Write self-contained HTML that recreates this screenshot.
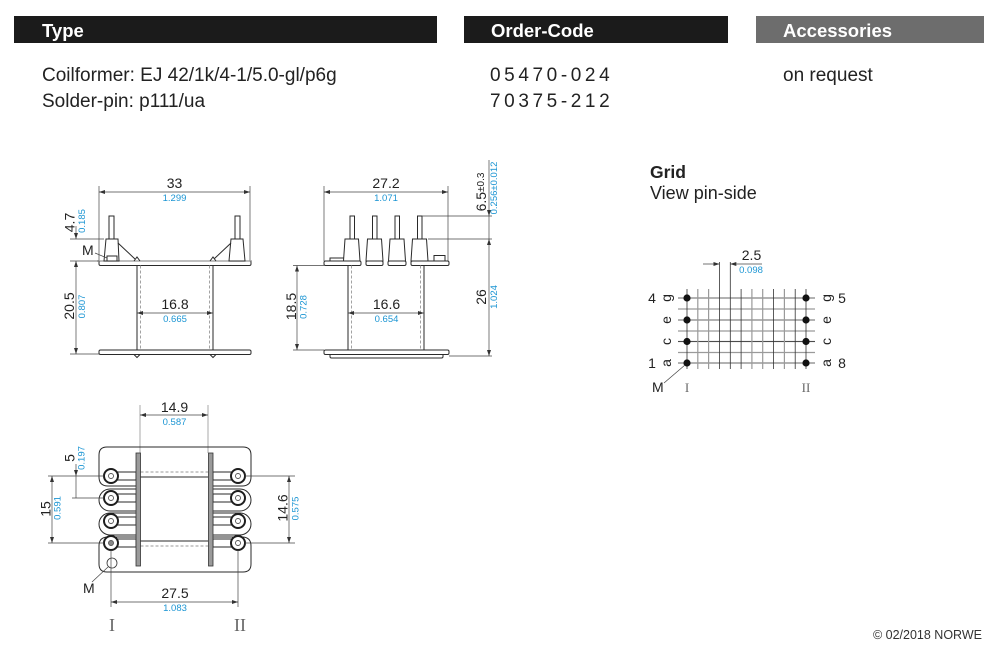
<!DOCTYPE html>
<html>
<head>
<meta charset="utf-8">
<style>
html,body{margin:0;padding:0;background:#fff;}
svg{display:block;}
.l{stroke:#2a2a2a;stroke-width:1;fill:none;}
.lf{stroke:#2a2a2a;stroke-width:1;fill:#fff;}
.e{stroke:#444;stroke-width:0.7;fill:none;}
.d{stroke:#999;stroke-width:0.9;stroke-dasharray:3 2;fill:none;}
.t{font-size:14px;fill:#222;}
.b{font-size:9.5px;fill:#1b95d3;}
.g1{stroke:#333;stroke-width:0.8;}
.g2{stroke:#9a9a9a;stroke-width:1.2;}
</style>
</head>
<body>
<svg width="1000" height="659" viewBox="0 0 1000 659" font-family="'Liberation Sans', Arial, sans-serif">
<defs>
<marker id="ar" viewBox="0 0 6 4" refX="6" refY="2" markerWidth="6" markerHeight="4" markerUnits="userSpaceOnUse" orient="auto-start-reverse"><path d="M0,0 L6,2 L0,4 z" fill="#333"/></marker>
</defs>

<!-- Header bars -->
<rect x="14" y="16" width="423" height="27" fill="#1b1b1b"/>
<rect x="464" y="16" width="264" height="27" fill="#1b1b1b"/>
<rect x="756" y="16" width="228" height="27" fill="#6d6d6d"/>
<text x="42" y="37" font-size="18.5" font-weight="bold" fill="#fff">Type</text>
<text x="491" y="37" font-size="18.5" font-weight="bold" fill="#fff">Order-Code</text>
<text x="783" y="37" font-size="18.5" font-weight="bold" fill="#fff">Accessories</text>

<!-- Body text -->
<text x="42" y="81" font-size="19" fill="#222">Coilformer: EJ 42/1k/4-1/5.0-gl/p6g</text>
<text x="42" y="107" font-size="19" fill="#222">Solder-pin: p111/ua</text>
<text x="490" y="81" font-size="19" fill="#222" letter-spacing="3.6">05470-024</text>
<text x="490" y="107" font-size="19" fill="#222" letter-spacing="3.6">70375-212</text>
<text x="783" y="81" font-size="19" fill="#222">on request</text>

<!-- Grid title -->
<text x="650" y="178" font-size="17.5" font-weight="bold" fill="#222">Grid</text>
<text x="650" y="199" font-size="18" fill="#222">View pin-side</text>

<!-- Footer -->
<text x="982" y="639" font-size="12.5" fill="#333" text-anchor="end">© 02/2018 NORWE</text>

<!-- ============ Drawing 1 ============ -->
<line class="e" x1="99" y1="186" x2="99" y2="261"/>
<line class="e" x1="250" y1="186" x2="250" y2="261"/>
<line class="e" x1="99" y1="192" x2="250" y2="192" marker-start="url(#ar)" marker-end="url(#ar)"/>
<text class="t" x="174.5" y="188" text-anchor="middle">33</text>
<text class="b" x="174.5" y="201" text-anchor="middle">1.299</text>

<rect class="lf" x="99" y="261" width="152" height="4.5" rx="1.5"/>
<line x1="97" y1="261" x2="252" y2="261" stroke="#999" stroke-width="1.2"/>
<polygon class="lf" points="104,261 106,239 118,239 119,261"/>
<rect class="lf" x="109" y="216" width="5" height="23"/>
<polygon class="lf" points="229,261 231,239 243,239 245,261"/>
<rect class="lf" x="235" y="216" width="5" height="23"/>
<line class="l" x1="118" y1="243" x2="135" y2="259"/>
<line class="l" x1="231" y1="243" x2="214" y2="259"/>
<path class="l" d="M134,261 L137,257 L140,261"/>
<path class="l" d="M210,261 L213,257 L216,261"/>
<rect class="lf" x="107" y="256" width="10" height="5"/>
<text class="t" x="82" y="255">M</text>
<line class="e" x1="95" y1="253" x2="107" y2="258"/>

<line class="e" x1="70" y1="239" x2="104" y2="239"/>
<line class="e" x1="76" y1="226" x2="76" y2="239" marker-end="url(#ar)"/>
<text class="t" transform="translate(69.5,222.5) rotate(-90)" text-anchor="middle" dominant-baseline="central">4.7</text>
<text class="b" transform="translate(82.5,221) rotate(-90)" text-anchor="middle" dominant-baseline="central">0.185</text>

<line class="e" x1="70" y1="261" x2="99" y2="261"/>
<line class="e" x1="76" y1="261" x2="76" y2="354" marker-start="url(#ar)" marker-end="url(#ar)"/>
<line class="e" x1="70" y1="354" x2="99" y2="354"/>
<text class="t" transform="translate(69,306) rotate(-90)" text-anchor="middle" dominant-baseline="central">20.5</text>
<text class="b" transform="translate(82.5,306.5) rotate(-90)" text-anchor="middle" dominant-baseline="central">0.807</text>

<line class="l" x1="137" y1="265.5" x2="137" y2="350"/>
<line class="l" x1="213" y1="265.5" x2="213" y2="350"/>
<line class="d" x1="140.5" y1="265.5" x2="140.5" y2="350"/>
<line class="d" x1="209.5" y1="265.5" x2="209.5" y2="350"/>
<line class="e" x1="137" y1="313" x2="213" y2="313" marker-start="url(#ar)" marker-end="url(#ar)"/>
<text class="t" x="175" y="309" text-anchor="middle">16.8</text>
<text class="b" x="175" y="322" text-anchor="middle">0.665</text>

<rect class="lf" x="99" y="350" width="152" height="4.5" rx="1.5"/>
<path class="l" d="M134,354.5 L137,357.5 L140,354.5"/>
<path class="l" d="M210,354.5 L213,357.5 L216,354.5"/>

<!-- ============ Drawing 2 ============ -->
<line class="e" x1="324" y1="186" x2="324" y2="261"/>
<line class="e" x1="448" y1="186" x2="448" y2="261"/>
<line class="e" x1="324" y1="192" x2="448" y2="192" marker-start="url(#ar)" marker-end="url(#ar)"/>
<text class="t" x="386" y="188" text-anchor="middle">27.2</text>
<text class="b" x="386" y="201" text-anchor="middle">1.071</text>

<path class="l" d="M330,261 L330,258 L345,258 L345,261"/>
<rect class="lf" x="434" y="255.5" width="11" height="5.5"/>
<rect class="lf" x="324" y="261" width="37" height="4.5" rx="1.5"/>
<rect class="lf" x="366" y="261" width="17" height="4.5" rx="1.5"/>
<rect class="lf" x="388" y="261" width="18" height="4.5" rx="1.5"/>
<rect class="lf" x="411" y="261" width="38" height="4.5" rx="1.5"/>
<polygon class="lf" points="343.5,261 345,239 358.5,239 360,261"/>
<rect class="lf" x="350" y="216" width="4.5" height="23"/>
<polygon class="lf" points="366,261 367.5,239 381.5,239 383,261"/>
<rect class="lf" x="372.5" y="216" width="4.5" height="23"/>
<polygon class="lf" points="388.5,261 390,239 404,239 405.5,261"/>
<rect class="lf" x="395" y="216" width="4.5" height="23"/>
<polygon class="lf" points="411,261 412.5,239 426.5,239 428,261"/>
<rect class="lf" x="417.5" y="216" width="4.5" height="23"/>

<line class="e" x1="422" y1="216" x2="492" y2="216"/>
<line class="e" x1="428" y1="239" x2="492" y2="239"/>
<line class="e" x1="489" y1="160" x2="489" y2="216" marker-end="url(#ar)"/>
<line class="e" x1="489" y1="216" x2="489" y2="239"/>
<line class="e" x1="489" y1="239" x2="489" y2="356" marker-start="url(#ar)" marker-end="url(#ar)"/>
<line class="e" x1="449" y1="356" x2="492" y2="356"/>
<text class="t" transform="translate(481,192) rotate(-90)" text-anchor="middle" dominant-baseline="central">6.5<tspan font-size="10">±0.3</tspan></text>
<text class="b" transform="translate(494.5,188) rotate(-90)" text-anchor="middle" dominant-baseline="central">0.256±0.012</text>
<text class="t" transform="translate(481,297) rotate(-90)" text-anchor="middle" dominant-baseline="central">26</text>
<text class="b" transform="translate(494.5,297) rotate(-90)" text-anchor="middle" dominant-baseline="central">1.024</text>

<line class="e" x1="293" y1="265.5" x2="324" y2="265.5"/>
<line class="e" x1="297" y1="265.5" x2="297" y2="350" marker-start="url(#ar)" marker-end="url(#ar)"/>
<line class="e" x1="293" y1="350" x2="324" y2="350"/>
<text class="t" transform="translate(291,306.5) rotate(-90)" text-anchor="middle" dominant-baseline="central">18.5</text>
<text class="b" transform="translate(304,307) rotate(-90)" text-anchor="middle" dominant-baseline="central">0.728</text>

<line class="l" x1="348" y1="265.5" x2="348" y2="350"/>
<line class="l" x1="424" y1="265.5" x2="424" y2="350"/>
<line class="d" x1="351.5" y1="265.5" x2="351.5" y2="350"/>
<line class="d" x1="420.5" y1="265.5" x2="420.5" y2="350"/>
<line class="e" x1="348" y1="313" x2="424" y2="313" marker-start="url(#ar)" marker-end="url(#ar)"/>
<text class="t" x="386.5" y="309" text-anchor="middle">16.6</text>
<text class="b" x="386.5" y="322" text-anchor="middle">0.654</text>

<rect class="lf" x="330" y="353" width="113" height="5" rx="1.5"/>
<rect class="lf" x="324" y="350" width="125" height="4.5" rx="1.5"/>

<!-- ============ Drawing 3 ============ -->
<line x1="140" y1="405" x2="140" y2="453" stroke="#aaa" stroke-width="1"/>
<line x1="208" y1="405" x2="208" y2="453" stroke="#aaa" stroke-width="1"/>
<line class="e" x1="140" y1="415" x2="208" y2="415" marker-start="url(#ar)" marker-end="url(#ar)"/>
<text class="t" x="174.5" y="412" text-anchor="middle">14.9</text>
<text class="b" x="174.5" y="425" text-anchor="middle">0.587</text>

<path class="l" d="M136,486 L108,486 Q99,486 99,477 L99,455 Q99,447 107,447 L243,447 Q251,447 251,455 L251,477 Q251,486 242,486 L213,486"/>
<path class="l" d="M136,489 L110,489 A11,11 0 0 0 110,511 L136,511"/>
<path class="l" d="M136,513 L110,513 A11,11 0 0 0 110,535 L136,535"/>
<path class="l" d="M213,489 L240,489 A11,11 0 0 1 240,511 L213,511"/>
<path class="l" d="M213,513 L240,513 A11,11 0 0 1 240,535 L213,535"/>
<path class="l" d="M136,537 L108,537 Q99,537 99,546 L99,564 Q99,572 107,572 L243,572 Q251,572 251,564 L251,546 Q251,537 242,537 L213,537"/>

<!-- core lines -->
<line class="d" x1="140.5" y1="472" x2="208" y2="472"/>
<line class="l" x1="140.5" y1="477" x2="208" y2="477"/>
<line class="l" x1="140.5" y1="541" x2="208" y2="541"/>
<line class="d" x1="140.5" y1="546" x2="208" y2="546"/>

<!-- leads -->
<g class="l">
<rect x="117" y="472" width="19" height="8"/>
<rect x="117" y="494" width="19" height="8"/>
<rect x="117" y="517" width="19" height="8"/>
<rect x="117" y="539" width="19" height="8"/>
<rect x="213" y="472" width="19" height="8"/>
<rect x="213" y="494" width="19" height="8"/>
<rect x="213" y="517" width="19" height="8"/>
<rect x="213" y="539" width="19" height="8"/>
</g>
<rect x="136" y="453" width="4.5" height="113" fill="#9a9a9a" stroke="#333" stroke-width="0.8"/>
<rect x="208.5" y="453" width="4.5" height="113" fill="#9a9a9a" stroke="#333" stroke-width="0.8"/>

<!-- pins -->
<g fill="#fff" stroke="#1e1e1e" stroke-width="2">
<circle cx="111" cy="476" r="7"/><circle cx="111" cy="498" r="7"/><circle cx="111" cy="521" r="7"/><circle cx="111" cy="543" r="7"/>
<circle cx="238" cy="476" r="7"/><circle cx="238" cy="498" r="7"/><circle cx="238" cy="521" r="7"/><circle cx="238" cy="543" r="7"/>
</g>
<g fill="#fff" stroke="#555" stroke-width="0.9">
<circle cx="111" cy="476" r="2.5"/><circle cx="111" cy="498" r="2.5"/><circle cx="111" cy="521" r="2.5"/><circle cx="111" cy="543" r="2.5" fill="#888"/>
<circle cx="238" cy="476" r="2.5"/><circle cx="238" cy="498" r="2.5"/><circle cx="238" cy="521" r="2.5"/><circle cx="238" cy="543" r="2.5"/>
</g>

<!-- left dims -->
<line class="e" x1="48" y1="476" x2="104" y2="476"/>
<line class="e" x1="72" y1="498" x2="104" y2="498"/>
<line class="e" x1="48" y1="543" x2="104" y2="543"/>
<line class="e" x1="76" y1="464" x2="76" y2="476" marker-end="url(#ar)"/>
<line class="e" x1="76" y1="476" x2="76" y2="498"/>
<text class="t" transform="translate(69.7,458) rotate(-90)" text-anchor="middle" dominant-baseline="central">5</text>
<text class="b" transform="translate(82,458) rotate(-90)" text-anchor="middle" dominant-baseline="central">0.197</text>
<line class="e" x1="52" y1="476" x2="52" y2="543" marker-start="url(#ar)" marker-end="url(#ar)"/>
<text class="t" transform="translate(45.5,509) rotate(-90)" text-anchor="middle" dominant-baseline="central">15</text>
<text class="b" transform="translate(58,508) rotate(-90)" text-anchor="middle" dominant-baseline="central">0.591</text>

<!-- right dims -->
<line class="e" x1="245" y1="476" x2="295" y2="476"/>
<line class="e" x1="245" y1="543" x2="295" y2="543"/>
<line class="e" x1="289" y1="476" x2="289" y2="543" marker-start="url(#ar)" marker-end="url(#ar)"/>
<text class="t" transform="translate(282.5,508) rotate(-90)" text-anchor="middle" dominant-baseline="central">14.6</text>
<text class="b" transform="translate(296,508.5) rotate(-90)" text-anchor="middle" dominant-baseline="central">0.575</text>

<!-- M -->
<circle cx="112" cy="563" r="5" fill="#fff" stroke="#333" stroke-width="0.8"/>
<line class="e" x1="92" y1="582" x2="108" y2="567"/>
<text class="t" x="83" y="593">M</text>

<!-- 27.5 -->
<line class="e" x1="111" y1="550" x2="111" y2="607"/>
<line class="e" x1="238" y1="550" x2="238" y2="607"/>
<line class="e" x1="111" y1="602" x2="238" y2="602" marker-start="url(#ar)" marker-end="url(#ar)"/>
<text class="t" x="175" y="598" text-anchor="middle">27.5</text>
<text class="b" x="175" y="611" text-anchor="middle">1.083</text>
<text x="112" y="631" font-family="'Liberation Serif', serif" font-size="18" fill="#666" text-anchor="middle">I</text>
<text x="240" y="631" font-family="'Liberation Serif', serif" font-size="18" fill="#666" text-anchor="middle">II</text>

<!-- ============ Grid ============ -->
<g>
<line class="g2" x1="678" y1="309" x2="815" y2="309"/>
<line class="g2" x1="678" y1="331" x2="815" y2="331"/>
<line class="g2" x1="678" y1="352.5" x2="815" y2="352.5"/>
<line class="g1" x1="678" y1="298" x2="815" y2="298"/>
<line class="g1" x1="678" y1="320" x2="815" y2="320"/>
<line class="g2" x1="678" y1="341.5" x2="815" y2="341.5"/>
<line class="g1" x1="678" y1="341.5" x2="815" y2="341.5"/>
<line class="g1" x1="678" y1="363" x2="815" y2="363"/>

<line class="g1" x1="687" y1="289" x2="687" y2="369"/>
<line class="g2" x1="697.8" y1="289" x2="697.8" y2="369"/>
<line class="g2" x1="708.6" y1="289" x2="708.6" y2="369"/>
<line class="g1" x1="719.5" y1="262" x2="719.5" y2="369"/>
<line class="g1" x1="730.3" y1="262" x2="730.3" y2="369"/>
<line class="g1" x1="741.1" y1="289" x2="741.1" y2="369"/>
<line class="g2" x1="751.9" y1="289" x2="751.9" y2="369"/>
<line class="g2" x1="762.7" y1="289" x2="762.7" y2="369"/>
<line class="g1" x1="773.6" y1="289" x2="773.6" y2="369"/>
<line class="g2" x1="784.4" y1="289" x2="784.4" y2="369"/>
<line class="g1" x1="795.2" y1="289" x2="795.2" y2="369"/>
<line class="g1" x1="806" y1="289" x2="806" y2="369"/>
</g>
<line class="e" x1="703" y1="264" x2="719.5" y2="264" marker-end="url(#ar)"/>
<line class="e" x1="762" y1="264" x2="730.3" y2="264" marker-end="url(#ar)"/>
<text class="t" x="751.5" y="260" text-anchor="middle">2.5</text>
<text class="b" x="751" y="273" text-anchor="middle">0.098</text>

<g fill="#111">
<circle cx="687" cy="298" r="3.6"/><circle cx="687" cy="320" r="3.6"/><circle cx="687" cy="341.5" r="3.6"/><circle cx="687" cy="363" r="3.6"/>
<circle cx="806" cy="298" r="3.6"/><circle cx="806" cy="320" r="3.6"/><circle cx="806" cy="341.5" r="3.6"/><circle cx="806" cy="363" r="3.6"/>
</g>
<text class="t" x="652" y="303" text-anchor="middle">4</text>
<text class="t" x="652" y="368" text-anchor="middle">1</text>
<text class="t" x="842" y="303" text-anchor="middle">5</text>
<text class="t" x="842" y="368" text-anchor="middle">8</text>
<g class="t">
<text transform="translate(666,298) rotate(-90)" text-anchor="middle" dominant-baseline="central">g</text>
<text transform="translate(666,320) rotate(-90)" text-anchor="middle" dominant-baseline="central">e</text>
<text transform="translate(666,341.5) rotate(-90)" text-anchor="middle" dominant-baseline="central">c</text>
<text transform="translate(666,363) rotate(-90)" text-anchor="middle" dominant-baseline="central">a</text>
<text transform="translate(826,298) rotate(-90)" text-anchor="middle" dominant-baseline="central">g</text>
<text transform="translate(826,320) rotate(-90)" text-anchor="middle" dominant-baseline="central">e</text>
<text transform="translate(826,341.5) rotate(-90)" text-anchor="middle" dominant-baseline="central">c</text>
<text transform="translate(826,363) rotate(-90)" text-anchor="middle" dominant-baseline="central">a</text>
</g>
<line class="e" x1="664" y1="383" x2="685" y2="365"/>
<text class="t" x="652" y="392">M</text>
<text x="687" y="392" font-family="'Liberation Serif', serif" font-size="13" fill="#666" text-anchor="middle">I</text>
<text x="806" y="392" font-family="'Liberation Serif', serif" font-size="13" fill="#666" text-anchor="middle">II</text>
</svg>
</body>
</html>
